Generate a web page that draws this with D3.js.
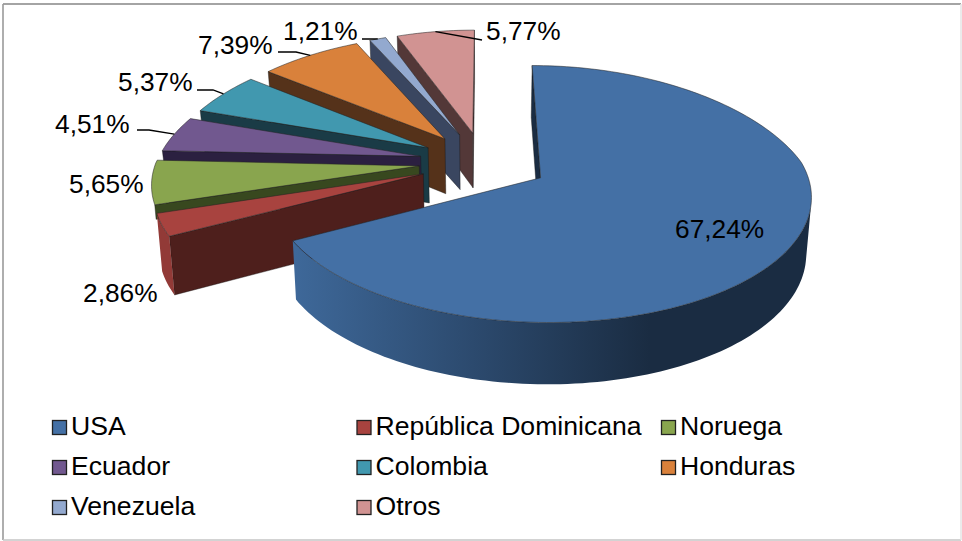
<!DOCTYPE html>
<html><head><meta charset="utf-8">
<script src="https://cdn.jsdelivr.net/npm/d3@7/dist/d3.min.js"></script>
<style>html,body{margin:0;padding:0;background:#fff}svg{display:block}text{font-family:"Liberation Sans",Arial,sans-serif;fill:#000}</style>
</head><body><svg id="c" width="962" height="541"></svg>
<script>
const categories=["USA","República Dominicana","Noruega","Ecuador","Colombia","Honduras","Venezuela","Otros"];
const values=[67.24,2.86,5.65,4.51,5.37,7.39,1.21,5.77];
const valueLabels=["67,24%","2,86%","5,65%","4,51%","5,37%","7,39%","1,21%","5,77%"];
const topColors=["#4470A5","#A8433F","#89A54E","#71588F","#4198AF","#D9813B","#93A9CF","#D19392"];
const wallColors=["#1A2C42","#4E1F1C","#38481F","#2B2040","#1A3B46","#55321A","#3A4660","#533838"];
const labelAnchors=[[675,238],[83,302],[69,193],[55,133],[118,91],[198,54],[283,40],[486,40]];
const leaderStarts=[null,null,null,[137,130],[197,90],[278,52],[362,39],[482,40]];
const leaderRun=[0,0,0,12,16,18,12,0];

const W=962,H=541;
const cam={cx:484,cy:162,R:263.5,explode:65,depth:64,shortWall:16,tilt:27.7*Math.PI/180,focal:1880,farFocal:1300};
const svg=d3.select("#c"),defs=svg.append("defs");
svg.append("rect").attr("width",W).attr("height",H).attr("fill","#fff");
[[3,4,961,4,"#868686"],[3,4,3,540,"#9a9a9a"],[3,540,961,540,"#c4c4c4"],[961,4,961,540,"#e6e6e6"]].forEach(b=>
  svg.append("line").attr("x1",b[0]).attr("y1",b[1]).attr("x2",b[2]).attr("y2",b[3])
    .attr("stroke",b[4]).attr("stroke-width",1.6));

function project(X,D,Z){
  const yc=D*Math.sin(cam.tilt)+Z*Math.cos(cam.tilt);
  const zc=D*Math.cos(cam.tilt)-Z*Math.sin(cam.tilt);
  const p=cam.focal/(cam.focal+zc);
  const px=zc>0?cam.farFocal/(cam.farFocal+zc):p;
  return [cam.cx+X*px,cam.cy-yc*p];
}
const arcs=d3.pie().sort(null).value(d=>d).startAngle(0).endAngle(2*Math.PI)(values);
const line=d3.line().curve(d3.curveLinear);
const midOf=i=>(arcs[i].startAngle+arcs[i].endAngle)/2;
const offset=i=>[cam.explode*Math.sin(midOf(i)),cam.explode*Math.cos(midOf(i))];
function polar(a,r,i,z){
  const o=offset(i);
  return project(r*Math.sin(a)+o[0],r*Math.cos(a)+o[1],z);
}
function samples(i){const a=arcs[i];const n=Math.max(4,Math.ceil((a.endAngle-a.startAngle)*40));
  return d3.range(n+1).map(k=>a.startAngle+(a.endAngle-a.startAngle)*k/n);}
const camD=-cam.focal*Math.cos(cam.tilt);
function faces(nx,nd,px,pd){return nx*(0-px)+nd*(camD-pd)>0;}
function outerVisible(t,R,o){
  if(t>Math.PI&&Math.cos(t)>-0.3) return false;
  return faces(Math.sin(t),Math.cos(t),R*Math.sin(t)+o[0],R*Math.cos(t)+o[1]);
}

const order=[7,6,5,4,3,2,1,0];
const g=svg.append("g");
order.forEach(i=>{
  const a=arcs[i],R=cam.R,d=-cam.depth,o=offset(i);
  const id="wg"+i,base=d3.rgb(topColors[i]);
  const vis=samples(i).filter(t=>outerVisible(t,R,o));
  const lg=defs.append("linearGradient").attr("id",id).attr("gradientUnits","userSpaceOnUse");
  if(i===0){
    lg.attr("x1",295).attr("x2",650);
    lg.append("stop").attr("offset",0).attr("stop-color","#3E6899");
    lg.append("stop").attr("offset",.5).attr("stop-color","#2C4A6E");
    lg.append("stop").attr("offset",1).attr("stop-color",wallColors[0]);
  }else{
    lg.attr("x1",0).attr("x2",W);
    lg.append("stop").attr("offset",0).attr("stop-color",base.darker(.4));
    lg.append("stop").attr("offset",1).attr("stop-color",base.darker(.4));
  }
  const wd=categories[i]==="Noruega"?-cam.shortWall:d;
  const drawWall=ang=>g.append("path")
    .attr("d",line([polar(ang,0,i,0),polar(ang,R,i,0),polar(ang,R,i,wd),polar(ang,0,i,wd)])+"Z")
    .attr("fill",wallColors[i]).attr("stroke","#151515").attr("stroke-width",.4);
  if(faces(Math.cos(a.endAngle),-Math.sin(a.endAngle),o[0],o[1])) drawWall(a.endAngle);
  if(faces(-Math.cos(a.startAngle),Math.sin(a.startAngle),o[0],o[1])) drawWall(a.startAngle);
  if(vis.length>1){
    const outer=vis.map(t=>polar(t,R,i,0)).concat(vis.slice().reverse().map(t=>polar(t,R,i,d)));
    g.append("path").attr("d",line(outer)+"Z").attr("fill",`url(#${id})`);
  }
  const top=[polar(0,0,i,0)].concat(samples(i).map(t=>polar(t,R,i,0)));
  g.append("path").attr("d",line(top)+"Z").attr("fill",topColors[i])
    .attr("stroke","#222").attr("stroke-opacity",.75).attr("stroke-width",.7);
});

const lab=svg.append("g");
arcs.forEach((a,i)=>{
  if(leaderStarts[i]){
    const st=leaderStarts[i],en=polar(midOf(i),cam.R,i,0);
    lab.append("path").attr("d",line([st,[st[0]+leaderRun[i],st[1]],en]))
      .attr("fill","none").attr("stroke","#000").attr("stroke-width",1.3);
  }
  lab.append("text").attr("x",labelAnchors[i][0]).attr("y",labelAnchors[i][1])
    .attr("font-size",26.3).text(valueLabels[i]);
});

const legCols=d3.scalePoint().domain([0,1,2]).range([52,661]);
const legRows=d3.scalePoint().domain([0,1,2]).range([420,500]);
const leg=svg.append("g");
categories.forEach((c,i)=>{
  const col=i%3,row=Math.floor(i/3),x=legCols(col),y=legRows(row);
  leg.append("rect").attr("x",x+.5).attr("y",y+.5).attr("width",14).attr("height",14)
    .attr("fill",topColors[i]).attr("stroke","#222").attr("stroke-width",1.3);
  leg.append("text").attr("x",x+19).attr("y",y+14.5).attr("font-size",26.6).text(c);
});
</script></body></html>
